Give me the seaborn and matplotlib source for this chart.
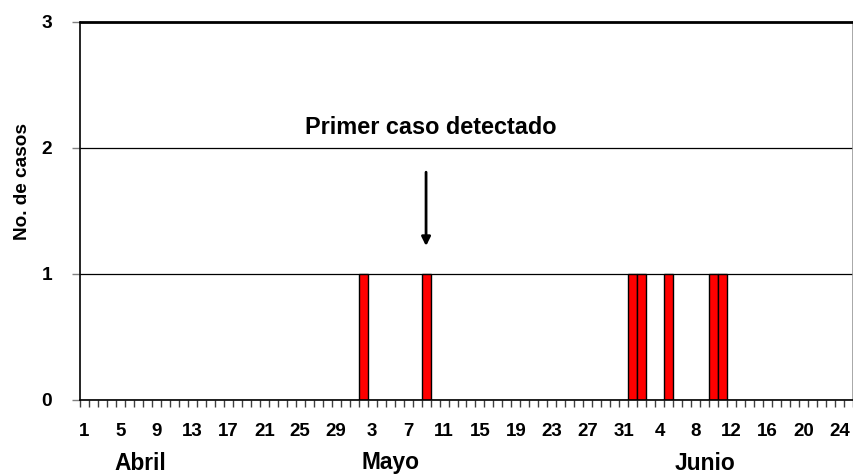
import numpy as np
import pandas as pd
import matplotlib
matplotlib.use("Agg")
import matplotlib.pyplot as plt
import seaborn as sns

# days shown: 1 April .. 25 June
month_names = ["Abril", "Mayo", "Junio"]
month_days = [30, 31, 25]
# case dates (month, day), one case each
case_dates = [("Mayo", 2), ("Mayo", 9), ("Junio", 1), ("Junio", 2),
              ("Junio", 5), ("Junio", 10), ("Junio", 11)]
case_counts = [1, 1, 1, 1, 1, 1, 1]

rows = []
for m, nd in zip(month_names, month_days):
    for d in range(1, nd + 1):
        rows.append({"mes": m, "dia": d, "casos": 0})
df = pd.DataFrame(rows)
for (m, d), c in zip(case_dates, case_counts):
    df.loc[(df.mes == m) & (df.dia == d), "casos"] = c
df["pos"] = np.arange(len(df))

sns.set_style("white")
plt.rcParams["font.family"] = ["Liberation Sans", "DejaVu Sans"]
plt.rcParams["font.weight"] = "bold"
plt.rcParams["text.color"] = "black"
plt.rcParams["xtick.color"] = "black"
plt.rcParams["ytick.color"] = "black"
plt.rcParams["axes.labelcolor"] = "black"

fig = plt.figure(figsize=(8.54, 4.74), dpi=100)
ax = fig.add_axes([80 / 854, 74 / 474, 773 / 854, 378 / 474])

sns.barplot(data=df, x="pos", y="casos", color="#ff0000", width=1.0,
            edgecolor="black", linewidth=1.0, saturation=1, ax=ax)

ax.set_ylim(0, 3)
ax.set_xlim(-0.5, len(df) - 0.5)
ax.set_yticks([0, 1, 2, 3])
ax.set_yticklabels(["0", "1", "2", "3"])
ax.tick_params(axis="y", length=6, width=1, color="#808080", pad=14,
               direction="out", left=True, labelcolor="black", labelsize=13.8)

# labels every 4 days, ticks at day boundaries
lab_pos = df["pos"][::4].tolist()
ax.set_xticks(lab_pos)
ax.set_xticklabels([str(d) for d in df["dia"][::4]])
ax.set_xticks(np.arange(len(df) + 1) - 0.5, minor=True)
ax.tick_params(axis="x", which="major", length=0, pad=16.5, labelcolor="black",
               labelsize=13.5)
ax.tick_params(axis="x", which="minor", length=5, width=1, color="#404040",
               direction="out", bottom=True)
for lab in ax.get_xticklabels() + ax.get_yticklabels():
    lab.set_fontweight("bold")
ax.set_xlabel("")
ax.set_ylabel("No. de casos", fontsize=13.7, fontweight="bold")
ax.yaxis.set_label_coords(-0.064, 0.577)

for yv in [1, 2]:
    ax.axhline(yv, color="black", lw=0.9, zorder=0)
ax.axhline(3, color="black", lw=2, zorder=3, clip_on=False)

for s in ["left", "bottom"]:
    ax.spines[s].set_color("black")
    ax.spines[s].set_linewidth(1.2)
ax.spines["right"].set_color("#999999")
ax.spines["right"].set_linewidth(1.2)
ax.spines["top"].set_visible(False)

# month labels
month_x = [6.2, 34.0, 69.0]
for m, xm in zip(month_names, month_x):
    ax.text(xm, -0.5, m, ha="center", va="center", fontsize=16.4, fontweight="bold",
            clip_on=False)

ax.annotate("", xy=(38, 1.2), xytext=(38, 1.83),
            arrowprops=dict(arrowstyle="-|>", color="black", lw=2, mutation_scale=13))
ax.text(38.5, 2.16, "Primer caso detectado", ha="center", va="center",
        fontsize=16.9, fontweight="bold")

fig.savefig("out.png", dpi=100)
